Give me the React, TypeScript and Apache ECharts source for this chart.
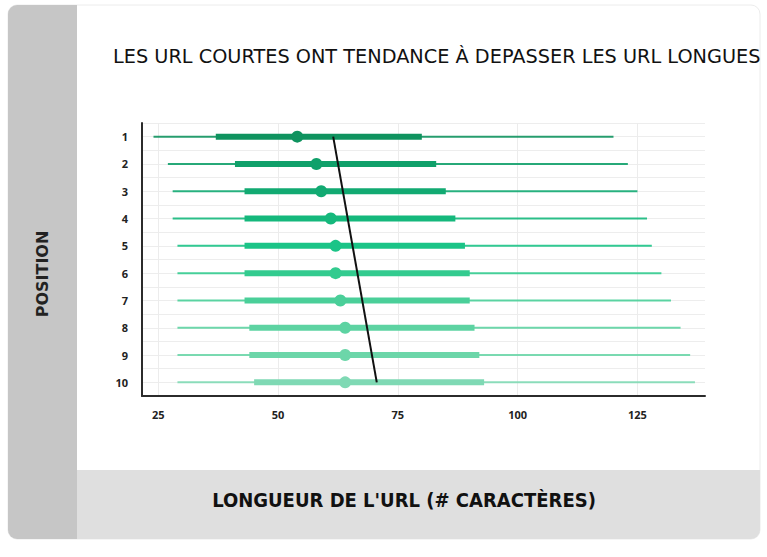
import React, { useEffect, useRef } from 'react';
import * as echarts from 'echarts';

// position in Google results
const positions = [1, 2, 3, 4, 5, 6, 7, 8, 9, 10];
// URL length (# characters) distribution per position
const mins = [24, 27, 28, 28, 29, 29, 29, 29, 29, 29];
const q1s = [37, 41, 43, 43, 43, 43, 43, 44, 44, 45];
const medians = [54, 58, 59, 61, 62, 62, 63, 64, 64, 64];
const q3s = [80, 83, 85, 87, 89, 90, 90, 91, 92, 93];
const maxs = [120, 123, 125, 127, 128, 130, 132, 134, 136, 137];
// trend of the medians, from position 1 to position 10
const trendPoints = [
    [61.5, 1],
    [70.6, 10],
];
const xTicks = [25, 50, 75, 100, 125];

const rowColors = [
    '#0f935f', '#10a06a', '#12aa72', '#15b87c', '#1bc487',
    '#33cb8f', '#4acf99', '#5dd3a2', '#6cd6a9', '#7fd9b4',
];

const App: React.FC = () => {
    const chartRef = useRef<HTMLDivElement>(null);

    useEffect(() => {
        const chartDom = chartRef.current!;
        const myChart = echarts.init(chartDom, null, { renderer: 'svg' });

        const boxData = positions.map((p, i) => [p, mins[i], q1s[i], medians[i], q3s[i], maxs[i]]);

        const option: echarts.EChartsOption = {
            animation: false,
            backgroundColor: '#ffffff',
            graphic: [
                // card: grey strip on the left, light band at the bottom
                { type: 'rect', z: -10, silent: true, shape: { x: 8, y: 5, width: 752, height: 534, r: 9 }, style: { fill: '#ffffff', stroke: '#ececec', lineWidth: 1 } },
                { type: 'rect', z: -9, silent: true, shape: { x: 8, y: 5, width: 69, height: 534, r: [9, 0, 0, 9] }, style: { fill: '#c6c6c6' } },
                { type: 'rect', z: -9, silent: true, shape: { x: 77, y: 470, width: 683, height: 69, r: [0, 0, 9, 0] }, style: { fill: '#dfdfdf' } },
                {
                    type: 'text',
                    left: 113,
                    top: 47,
                    style: {
                        text: 'LES URL COURTES ONT TENDANCE À DEPASSER LES URL LONGUES',
                        fontFamily: 'DejaVu Sans',
                        fontSize: 19.3,
                        fill: '#111111',
                    },
                },
                {
                    type: 'text',
                    x: 404,
                    y: 500,
                    style: {
                        text: "LONGUEUR DE L'URL (# CARACTÈRES)",
                        fontFamily: 'DejaVu Sans Condensed',
                        fontWeight: 'bold',
                        fontSize: 20,
                        fill: '#111111',
                        align: 'center',
                        verticalAlign: 'middle',
                    },
                },
                {
                    type: 'text',
                    x: 42,
                    y: 274,
                    rotation: Math.PI / 2,
                    style: {
                        text: 'POSITION',
                        fontFamily: 'DejaVu Sans',
                        fontWeight: 'bold',
                        fontSize: 16,
                        fill: '#222222',
                        align: 'center',
                        verticalAlign: 'middle',
                    },
                },
            ],
            grid: {
                left: 142,
                top: 123,
                right: 62,
                bottom: 161,
                containLabel: false,
            },
            xAxis: {
                type: 'value',
                min: 21.6,
                max: 139.1,
                axisLine: { show: true, onZero: false, lineStyle: { color: '#2b2b2b', width: 2 } },
                axisTick: { show: false, customValues: xTicks },
                axisLabel: {
                    customValues: xTicks,
                    color: '#222222',
                    fontFamily: 'Open Sans',
                    fontWeight: 'bold',
                    fontSize: 11,
                    margin: 13,
                },
                splitLine: { show: true, lineStyle: { color: '#ececec', width: 1 } },
            },
            yAxis: {
                type: 'value',
                inverse: true,
                min: 0.5,
                max: 10.5,
                interval: 0.5,
                axisLine: { show: true, onZero: false, lineStyle: { color: '#2b2b2b', width: 2 } },
                axisTick: { show: false },
                axisLabel: {
                    formatter: (v: number) => (Number.isInteger(v) ? String(v) : ''),
                    color: '#222222',
                    fontFamily: 'Open Sans',
                    fontWeight: 'bold',
                    fontSize: 11,
                    margin: 14,
                    showMinLabel: false,
                    showMaxLabel: false,
                },
                splitLine: { show: true, lineStyle: { color: '#ededed', width: 1 } },
            },
            series: [
                {
                    type: 'custom',
                    name: 'url',
                    data: boxData,
                    dimensions: ['position', 'min', 'q1', 'median', 'q3', 'max'],
                    encode: { x: [1, 2, 3, 4, 5], y: 0 },
                    renderItem: (params: any, api: any) => {
                        const y = api.value(0);
                        const pMin = api.coord([api.value(1), y]);
                        const pQ1 = api.coord([api.value(2), y]);
                        const pMed = api.coord([api.value(3), y]);
                        const pQ3 = api.coord([api.value(4), y]);
                        const pMax = api.coord([api.value(5), y]);
                        const color = rowColors[params.dataIndex];
                        return {
                            type: 'group',
                            children: [
                                {
                                    type: 'line',
                                    shape: { x1: pMin[0], y1: pMin[1], x2: pMax[0], y2: pMax[1] },
                                    style: { stroke: color, lineWidth: 2, opacity: 0.9 },
                                },
                                {
                                    type: 'line',
                                    shape: { x1: pQ1[0], y1: pQ1[1], x2: pQ3[0], y2: pQ3[1] },
                                    style: { stroke: color, lineWidth: 6 },
                                },
                                {
                                    type: 'circle',
                                    shape: { cx: pMed[0], cy: pMed[1], r: 6 },
                                    style: { fill: color },
                                },
                            ],
                        };
                    },
                    z: 2,
                },
                {
                    type: 'line',
                    name: 'tendance',
                    data: trendPoints,
                    symbol: 'none',
                    lineStyle: { color: '#111111', width: 2 },
                    z: 3,
                },
            ],
        };

        myChart.setOption(option);

        const resizeObserver = new ResizeObserver(() => {
            myChart.resize();
        });
        resizeObserver.observe(chartDom);

        return () => {
            myChart.dispose();
            resizeObserver.disconnect();
        };
    }, []);

    return (
        <div
            ref={chartRef}
            style={{ position: 'fixed', left: 0, top: 0, width: 767, height: 557 }}
        />
    );
};

export default App;
